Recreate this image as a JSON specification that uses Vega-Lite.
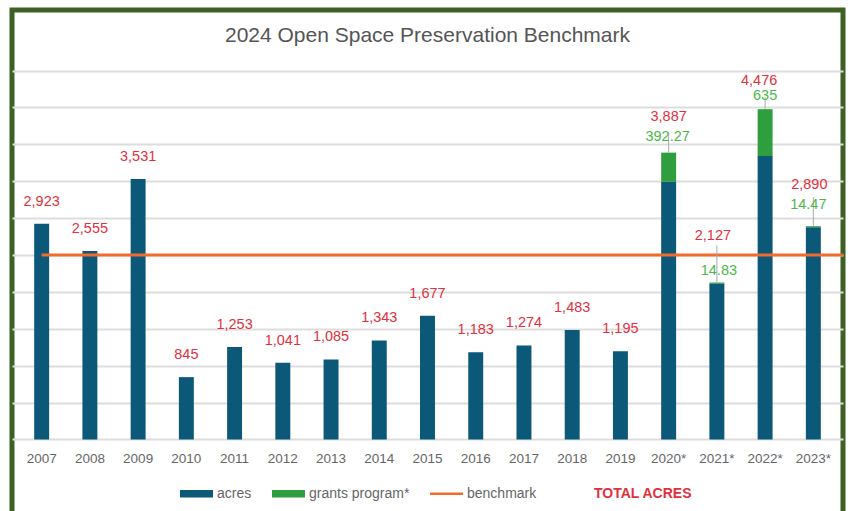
{
  "$schema": "https://vega.github.io/schema/vega-lite/v6.json",
  "width": 831,
  "height": 504,
  "autosize": {"type": "none"},
  "padding": {"left": 12, "top": 10, "right": 11, "bottom": -3},
  "background": "white",
  "title": {
    "text": "2024 Open Space Preservation Benchmark",
    "anchor": "middle",
    "offset": -57,
    "baseline": "bottom",
    "fontSize": 21,
    "font": "Liberation Sans",
    "fontWeight": "normal",
    "color": "#555555"
  },
  "config": {
    "view": {"stroke": "#3d6024", "strokeWidth": 5, "fill": "white"},
    "font": "Liberation Sans"
  },
  "datasets": {
    "bars": [
      {"year": "2007", "category": "acres", "value": 2923},
      {"year": "2008", "category": "acres", "value": 2555},
      {"year": "2009", "category": "acres", "value": 3531},
      {"year": "2010", "category": "acres", "value": 845},
      {"year": "2011", "category": "acres", "value": 1253},
      {"year": "2012", "category": "acres", "value": 1041},
      {"year": "2013", "category": "acres", "value": 1085},
      {"year": "2014", "category": "acres", "value": 1343},
      {"year": "2015", "category": "acres", "value": 1677},
      {"year": "2016", "category": "acres", "value": 1183},
      {"year": "2017", "category": "acres", "value": 1274},
      {"year": "2018", "category": "acres", "value": 1483},
      {"year": "2019", "category": "acres", "value": 1195},
      {"year": "2020*", "category": "acres", "value": 3494.73},
      {"year": "2020*", "category": "grants program*", "value": 392.27},
      {"year": "2021*", "category": "acres", "value": 2112.17},
      {"year": "2021*", "category": "grants program*", "value": 14.83},
      {"year": "2022*", "category": "acres", "value": 3841},
      {"year": "2022*", "category": "grants program*", "value": 635},
      {"year": "2023*", "category": "acres", "value": 2875.53},
      {"year": "2023*", "category": "grants program*", "value": 14.47}
    ],
    "labels": [
      {"year": "2007", "total": 2923, "grants": null},
      {"year": "2008", "total": 2555, "grants": null},
      {"year": "2009", "total": 3531, "grants": null},
      {"year": "2010", "total": 845, "grants": null},
      {"year": "2011", "total": 1253, "grants": null},
      {"year": "2012", "total": 1041, "grants": null},
      {"year": "2013", "total": 1085, "grants": null},
      {"year": "2014", "total": 1343, "grants": null},
      {"year": "2015", "total": 1677, "grants": null},
      {"year": "2016", "total": 1183, "grants": null},
      {"year": "2017", "total": 1274, "grants": null},
      {"year": "2018", "total": 1483, "grants": null},
      {"year": "2019", "total": 1195, "grants": null},
      {"year": "2020*", "total": 3887, "grants": 392.27},
      {"year": "2021*", "total": 2127, "grants": 14.83},
      {"year": "2022*", "total": 4476, "grants": 635},
      {"year": "2023*", "total": 2890, "grants": 14.47}
    ],
    "bench": [{"year": "2007", "benchmark": 2500}]
  },
  "encoding": {
    "x": {
      "field": "year",
      "type": "nominal",
      "sort": null,
      "scale": {
        "domain": ["2007","2008","2009","2010","2011","2012","2013","2014","2015","2016","2017","2018","2019","2020*","2021*","2022*","2023*"],
        "paddingInner": 0.69,
        "paddingOuter": 0.46
      },
      "axis": {
        "title": null,
        "orient": "bottom",
        "offset": -74.5,
        "labelPadding": 12,
        "ticks": false,
        "domain": false,
        "labelAngle": 0,
        "labelFontSize": 13.5,
        "labelColor": "#666666",
        "labelFont": "Liberation Sans",
        "grid": false
      }
    }
  },
  "layer": [
    {
      "data": {"name": "bars"},
      "mark": {"type": "bar"},
      "encoding": {
        "y": {
          "field": "value",
          "type": "quantitative",
          "stack": "zero",
          "scale": {"domain": [-1009.5, 5819.8], "nice": false, "zero": false},
          "axis": {
            "title": null,
            "labels": false,
            "ticks": false,
            "domain": false,
            "grid": true,
            "gridColor": "#dddddd",
            "gridWidth": 2,
            "values": [0, 500, 1000, 1500, 2000, 2500, 3000, 3500, 4000, 4500, 5000]
          }
        },
        "order": {"field": "category", "type": "nominal", "sort": "ascending"},
        "color": {
          "field": "category",
          "type": "nominal",
          "scale": {
            "domain": ["acres", "grants program*", "benchmark", "TOTAL ACRES"],
            "range": ["#0b5878", "#2e9e3e", "#f26b2a", "#e2303e"]
          },
          "legend": {
            "orient": "none",
            "legendX": 168,
            "legendY": 467,
            "direction": "horizontal",
            "title": null,
            "symbolType": "M-1,-0.23H1V0.23H-1Z",
            "symbolSize": 1089,
            "symbolStrokeWidth": 0,
            "labelFontSize": 14,
            "labelFont": "Liberation Sans",
            "labelColor": "#666666",
            "labelOffset": 4,
            "columnPadding": 20,
            "encode": {
              "symbols": {
                "update": {
                  "shape": {"signal": "datum.label === 'benchmark' ? 'M-1,-0.08H1V0.08H-1Z' : 'M-1,-0.23H1V0.23H-1Z'"},
                  "opacity": {"signal": "datum.label === 'TOTAL ACRES' ? 0 : 1"}
                }
              },
              "labels": {
                "update": {
                  "fill": {"signal": "datum.label === 'TOTAL ACRES' ? '#e2303e' : '#666666'"},
                  "fontWeight": {"signal": "datum.label === 'TOTAL ACRES' ? 'bold' : 'normal'"}
                }
              }
            }
          }
        }
      }
    },
    {
      "data": {"name": "bench"},
      "mark": {"type": "rule", "color": "#f26b2a", "strokeWidth": 3},
      "encoding": {
        "x2": {"value": "width"},
        "y": {"field": "benchmark", "type": "quantitative"}
      }
    },
    {
      "data": {"name": "labels"},
      "transform": [{"filter": "datum.grants == null"}],
      "mark": {"type": "text", "baseline": "middle", "dy": -22, "fontSize": 14.5, "color": "#e2303e"},
      "encoding": {
        "y": {"field": "total", "type": "quantitative"},
        "text": {"field": "total", "type": "quantitative", "format": ",.0f"}
      }
    },
    {
      "data": {"name": "labels"},
      "transform": [{"filter": "datum.year === '2020*'"}],
      "layer": [
        {"mark": {"type": "rule", "color": "#aaaaaa", "strokeWidth": 1, "y2Offset": -20},
         "encoding": {"y": {"field": "total", "type": "quantitative"}, "y2": {"field": "total"}}},
        {"mark": {"type": "text", "baseline": "middle", "dy": -36, "fontSize": 14.5, "color": "#e2303e"},
         "encoding": {"y": {"field": "total", "type": "quantitative"}, "text": {"field": "total", "type": "quantitative", "format": ",.0f"}}},
        {"mark": {"type": "text", "baseline": "middle", "dy": -16, "dx": -1, "fontSize": 14.5, "color": "#4cb84c"},
         "encoding": {"y": {"field": "total", "type": "quantitative"}, "text": {"field": "grants", "type": "quantitative", "format": ".2~f"}}}
      ]
    },
    {
      "data": {"name": "labels"},
      "transform": [{"filter": "datum.year === '2021*'"}],
      "layer": [
        {"mark": {"type": "rule", "color": "#aaaaaa", "strokeWidth": 1, "y2Offset": -37},
         "encoding": {"y": {"field": "total", "type": "quantitative"}, "y2": {"field": "total"}}},
        {"mark": {"type": "text", "baseline": "middle", "dy": -47, "dx": -4, "fontSize": 14.5, "color": "#e2303e"},
         "encoding": {"y": {"field": "total", "type": "quantitative"}, "text": {"field": "total", "type": "quantitative", "format": ",.0f"}}},
        {"mark": {"type": "text", "baseline": "middle", "dy": -12, "dx": 2, "fontSize": 14.5, "color": "#4cb84c"},
         "encoding": {"y": {"field": "total", "type": "quantitative"}, "text": {"field": "grants", "type": "quantitative", "format": ".2~f"}}}
      ]
    },
    {
      "data": {"name": "labels"},
      "transform": [{"filter": "datum.year === '2022*'"}],
      "layer": [
        {"mark": {"type": "rule", "color": "#aaaaaa", "strokeWidth": 1, "y2Offset": -12},
         "encoding": {"y": {"field": "total", "type": "quantitative"}, "y2": {"field": "total"}}},
        {"mark": {"type": "text", "baseline": "middle", "dy": -28, "dx": -6, "fontSize": 14.5, "color": "#e2303e"},
         "encoding": {"y": {"field": "total", "type": "quantitative"}, "text": {"field": "total", "type": "quantitative", "format": ",.0f"}}},
        {"mark": {"type": "text", "baseline": "middle", "dy": -13, "fontSize": 14.5, "color": "#4cb84c"},
         "encoding": {"y": {"field": "total", "type": "quantitative"}, "text": {"field": "grants", "type": "quantitative", "format": ".2~f"}}}
      ]
    },
    {
      "data": {"name": "labels"},
      "transform": [{"filter": "datum.year === '2023*'"}],
      "layer": [
        {"mark": {"type": "rule", "color": "#aaaaaa", "strokeWidth": 1, "y2Offset": -29},
         "encoding": {"y": {"field": "total", "type": "quantitative"}, "y2": {"field": "total"}}},
        {"mark": {"type": "text", "baseline": "middle", "dy": -41, "dx": -4, "fontSize": 14.5, "color": "#e2303e"},
         "encoding": {"y": {"field": "total", "type": "quantitative"}, "text": {"field": "total", "type": "quantitative", "format": ",.0f"}}},
        {"mark": {"type": "text", "baseline": "middle", "dy": -21, "dx": -5, "fontSize": 14.5, "color": "#4cb84c"},
         "encoding": {"y": {"field": "total", "type": "quantitative"}, "text": {"field": "grants", "type": "quantitative", "format": ".2~f"}}}
      ]
    }
  ]
}
